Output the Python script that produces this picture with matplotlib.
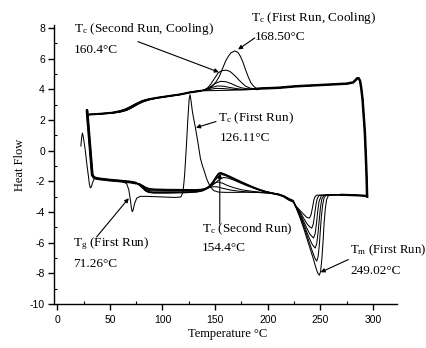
import matplotlib
matplotlib.use("Agg")
import matplotlib.pyplot as plt
from matplotlib.ticker import MultipleLocator

plt.rcParams['font.family'] = 'Liberation Serif'
plt.rcParams['mathtext.fontset'] = 'custom'
plt.rcParams['mathtext.rm'] = 'Liberation Serif'
plt.rcParams['mathtext.it'] = 'Liberation Serif:italic'
plt.rcParams['axes.unicode_minus'] = False

# ---------------- heating scans ----------------
# first heating run (glass transition, cold crystallisation spike, deepest melt)
run1_heat_T = [22.5, 23.3, 24.0, 24.8, 26.6, 28.2, 29.7, 30.6, 31.5, 32.5, 33.5, 35.4, 38, 45, 55, 62,
               66, 68, 69.5, 70.5, 71.26, 72.2, 73.5, 75.5, 78.8, 85, 100, 112, 117.5,
               119.5, 121, 122.6, 124.2, 125.3, 126.11, 127, 128.5, 130, 131, 132.5, 134.2, 136, 138,
               140, 142, 145, 148.5, 153, 160, 170, 180, 190, 200, 206, 212, 216, 220, 224,
               227, 230.7, 234, 237, 240, 243, 245.5, 247.5, 249.02, 250.2, 251.4, 252.5, 253.5,
               254.6, 255.8, 257.6, 262]
run1_heat_Q = [0.3, 0.9, 1.15, 0.9, 0.07, -0.9, -1.68, -2.2, -2.43, -2.35, -2.1, -1.8, -1.8, -1.88, -1.95, -2.02,
               -2.15, -2.55, -3.2, -3.75, -3.98, -3.85, -3.45, -3.1, -2.98, -2.98, -3.02, -3.05, -3.02,
               -2.7, -1.6, 0.2, 2.2, 3.35, 3.65, 3.3, 2.5, 1.95, 1.6, 1.0, 0.3, -0.5, -1.0,
               -1.4, -1.85, -2.3, -2.6, -2.7, -2.72, -2.72, -2.71, -2.72, -2.76, -2.8, -2.88, -3.0, -3.18, -3.3,
               -3.75, -4.4, -5.05, -5.7, -6.35, -7.0, -7.6, -8.0, -8.12, -7.85, -7.0, -5.9, -4.7,
               -3.8, -3.2, -2.92, -2.88]

# second-run heating scans: common start and common end plateau
heat_start_T = [28.3, 33.3, 34.6, 36.2, 40, 50, 60, 70, 75]
heat_start_Q = [2.65, -1.58, -1.72, -1.79, -1.84, -1.92, -1.98, -2.05, -2.12]
heat_end_T = [270, 280, 290, 294.2]
heat_end_Q = [-2.88, -2.9, -2.93, -2.95]

# glass step + cold crystallisation region (78-224 C)
heat_a_T = [78, 81, 84, 87, 92, 105, 120, 132, 138, 142, 145.5, 148.5, 151, 153, 154.4, 156, 159, 163,
            167, 172, 177, 183, 190, 197, 204, 210, 215, 220, 224]
heat_a_Q = [-2.22, -2.4, -2.6, -2.7, -2.74, -2.74, -2.72, -2.68, -2.6, -2.47, -2.27, -2.0, -1.72, -1.53,
            -1.46, -1.47, -1.55, -1.67, -1.8, -1.96, -2.12, -2.3, -2.5, -2.66, -2.78, -2.86, -2.98, -3.2, -3.32]
heat_b_T = [78, 81, 84, 87, 92, 105, 120, 132, 138, 143, 147, 151, 154, 156, 159, 163, 168, 174, 180,
            187, 195, 203, 210, 215, 220, 224]
heat_b_Q = [-2.2, -2.36, -2.52, -2.6, -2.63, -2.64, -2.63, -2.6, -2.54, -2.4, -2.15, -1.85, -1.62, -1.56,
            -1.6, -1.72, -1.88, -2.06, -2.24, -2.44, -2.62, -2.75, -2.85, -2.97, -3.18, -3.3]
heat_c_T = [78, 81, 84, 87, 92, 105, 120, 132, 140, 145, 150, 154, 158, 162, 167, 173, 180, 188, 196,
            204, 210, 215, 220, 224]
heat_c_Q = [-2.18, -2.32, -2.46, -2.55, -2.58, -2.6, -2.6, -2.58, -2.52, -2.38, -2.12, -1.88, -1.75, -1.78,
            -1.9, -2.08, -2.28, -2.48, -2.65, -2.76, -2.85, -2.96, -3.16, -3.28]
heat_d_T = [78, 81, 84, 87, 92, 105, 120, 132, 138, 143, 147, 150, 153, 157, 162, 168, 175, 185, 195,
            205, 210, 215, 220, 224]
heat_d_Q = [-2.16, -2.28, -2.42, -2.5, -2.53, -2.55, -2.56, -2.56, -2.52, -2.4, -2.22, -2.08, -2.05, -2.12,
            -2.28, -2.42, -2.55, -2.65, -2.72, -2.78, -2.84, -2.95, -3.14, -3.26]
heat_e_T = [78, 81, 84, 87, 92, 105, 120, 132, 140, 144, 148, 152, 157, 164, 172, 182, 195, 205, 210,
            215, 220, 224]
heat_e_Q = [-2.15, -2.26, -2.38, -2.46, -2.5, -2.52, -2.53, -2.54, -2.5, -2.42, -2.35, -2.36, -2.45, -2.56,
            -2.64, -2.7, -2.74, -2.78, -2.83, -2.94, -3.12, -3.24]

# melting endotherms
melt_a_T = [227, 230.7, 234, 237, 240, 243, 245, 246.5, 247.8, 249, 250, 251, 252.2, 253.5, 255.5, 262]
melt_a_Q = [-3.72, -4.3, -4.9, -5.5, -6.1, -6.7, -7.05, -7.2, -6.9, -6.1, -5.1, -4.2, -3.5, -3.05, -2.9, -2.88]
melt_b_T = [227, 230.7, 234, 237, 240, 242.5, 245, 246.5, 247.8, 249, 250, 251.3, 253.3, 262]
melt_b_Q = [-3.7, -4.2, -4.75, -5.3, -5.8, -6.15, -6.35, -6.05, -5.3, -4.4, -3.7, -3.15, -2.92, -2.88]
melt_c_T = [227, 230.7, 234, 237, 240, 243.4, 245, 246.3, 247.5, 248.7, 251, 262]
melt_c_Q = [-3.68, -4.1, -4.6, -5.05, -5.45, -5.7, -5.4, -4.7, -3.9, -3.3, -2.92, -2.88]
melt_d_T = [227, 230.7, 234, 237, 239.5, 241.8, 243.3, 244.6, 245.8, 247, 248.8, 262]
melt_d_Q = [-3.66, -4.0, -4.4, -4.75, -4.95, -5.05, -4.75, -4.1, -3.5, -3.1, -2.92, -2.88]
melt_e_T = [227, 230.7, 234, 237, 239.6, 241.2, 242.6, 243.8, 245, 246.6, 262]
melt_e_Q = [-3.64, -3.9, -4.15, -4.35, -4.4, -4.15, -3.65, -3.2, -2.98, -2.9, -2.88]

# ---------------- cooling scans ----------------
cool_left_T = [29.0, 40, 52, 60, 66, 71, 76, 81, 87, 95, 105, 117, 126, 133, 136]
cool_left_Q = [2.35, 2.4, 2.47, 2.58, 2.72, 2.9, 3.08, 3.24, 3.35, 3.45, 3.55, 3.67, 3.8, 3.87, 3.9]
cool_left_alt_Q = [2.35, 2.39, 2.44, 2.52, 2.63, 2.8, 3.0, 3.17, 3.31, 3.43, 3.54, 3.66, 3.8, 3.87, 3.9]
cool_right_T = [190, 192, 210, 227, 250, 275, 281, 283, 284.9, 286.3, 287.6, 288.8, 290, 291.1, 292.2,
                293, 293.7, 294.3]
cool_right_Q = [4.03, 4.05, 4.1, 4.2, 4.28, 4.37, 4.45, 4.58, 4.72, 4.72, 4.55, 4.05, 3.33, 2.25, 1.15,
                -0.2, -1.46, -3.0]

# crystallisation exotherms on cooling (136-190 C)
cool_1_T = [141, 145, 148, 151, 154, 157, 160, 162.5, 165, 168.5, 171.5, 174, 176.5, 179, 181.5, 184, 187]
cool_1_Q = [3.95, 4.08, 4.25, 4.5, 4.85, 5.35, 5.85, 6.15, 6.38, 6.5, 6.42, 6.15, 5.75, 5.25, 4.8, 4.42, 4.17]
cool_2_T = [140, 143, 146, 149.5, 153, 156.5, 160.4, 164, 167, 170, 173, 176, 179, 183, 187]
cool_2_Q = [3.98, 4.1, 4.35, 4.72, 5.08, 5.22, 5.25, 5.17, 5.0, 4.8, 4.58, 4.38, 4.2, 4.08, 4.04]
cool_3_T = [140, 145, 150, 155, 160, 165, 170, 175, 180, 185]
cool_3_Q = [3.97, 4.15, 4.38, 4.52, 4.5, 4.38, 4.22, 4.1, 4.04, 4.03]
cool_4_T = [142, 147, 152, 158, 164, 170, 176, 183]
cool_4_Q = [4.0, 4.12, 4.22, 4.2, 4.12, 4.05, 4.0, 4.0]
cool_5_T = [143, 150, 158, 166, 175, 183]
cool_5_Q = [3.96, 4.06, 4.05, 4.0, 3.97, 3.98]
cool_6_T = [150, 165, 180]
cool_6_Q = [3.92, 3.94, 3.98]

fig = plt.figure(figsize=(4.26, 3.48), dpi=100)
ax = fig.add_axes([0.1268, 0.1264, 0.8059, 0.802])

LW = 0.75
K = 'black'

# first heating run
ax.plot(run1_heat_T, run1_heat_Q, color=K, lw=LW)

# second-run heating scans
mids = [(heat_a_T, heat_a_Q, melt_a_T, melt_a_Q),
        (heat_b_T, heat_b_Q, melt_b_T, melt_b_Q),
        (heat_c_T, heat_c_Q, melt_c_T, melt_c_Q),
        (heat_d_T, heat_d_Q, melt_d_T, melt_d_Q),
        (heat_e_T, heat_e_Q, melt_e_T, melt_e_Q)]
for hT, hQ, mT, mQ in mids:
    T = heat_start_T + hT + mT + heat_end_T
    Q = heat_start_Q + hQ + mQ + heat_end_Q
    ax.plot(T, Q, color=K, lw=LW)
# overlapping traces on the shared stretches
ax.plot(heat_start_T + heat_a_T, heat_start_Q + heat_a_Q, color=K, lw=1.4)
ax.plot(heat_start_T, heat_start_Q, color=K, lw=2.0, solid_capstyle='butt')
ax.plot(heat_end_T, heat_end_Q, color=K, lw=1.6)

# cooling scans
peaks = [(cool_1_T, cool_1_Q, cool_left_Q), (cool_2_T, cool_2_Q, cool_left_alt_Q),
         (cool_3_T, cool_3_Q, cool_left_Q), (cool_4_T, cool_4_Q, cool_left_alt_Q),
         (cool_5_T, cool_5_Q, cool_left_Q), (cool_6_T, cool_6_Q, cool_left_Q)]
for pT, pQ, lQ in peaks:
    ax.plot(cool_left_T + pT + cool_right_T, lQ + pQ + cool_right_Q, color=K, lw=LW)
ax.plot(cool_left_T, cool_left_Q, color=K, lw=1.5)
ax.plot(cool_right_T, cool_right_Q, color=K, lw=1.8)

# axes styling
ax.set_xlim(-3, 323)
ax.set_ylim(-10, 8.2)
for s in ('top', 'right'):
    ax.spines[s].set_visible(False)
for s in ('left', 'bottom'):
    ax.spines[s].set_linewidth(1.0)
ax.xaxis.set_major_locator(MultipleLocator(50))
ax.xaxis.set_minor_locator(MultipleLocator(25))
ax.yaxis.set_major_locator(MultipleLocator(2))
ax.yaxis.set_minor_locator(MultipleLocator(1))
ax.tick_params(which='major', direction='out', length=4, width=1.0, labelsize=7.5, pad=2.5)
ax.tick_params(which='minor', direction='in', length=2.5, width=0.8)
ax.tick_params(axis='x', which='major', pad=4)
for t in ax.get_xticklabels() + ax.get_yticklabels():
    t.set_fontfamily('Liberation Sans')

ax.set_xlabel('Temperature °C', fontsize=9)
ax.xaxis.set_label_coords(0.507, -0.108)
ax.xaxis.label.set_va('center')
ax.set_ylabel('Heat Flow', fontsize=9)
ax.yaxis.set_label_coords(-0.099, 0.5)
ax.yaxis.label.set_va('center')

FS = 9.5
arrow = dict(arrowstyle='-|>', color=K, lw=0.8, mutation_scale=6, shrinkA=0, shrinkB=0)


def note(x, y, s, size=FS):
    ax.text(x, y, s, fontsize=size, ha='left', va='center')


# cooling peak labels
note(15.9, 7.96, r'T$_{\rm c}$ (Second Run, Cooling)')
note(15.9, 6.55, '160.4°C')
ax.annotate('', xy=(153.5, 5.12), xytext=(76.7, 7.11), arrowprops=arrow)

note(184.1, 8.68, r'T$_{\rm c}$ (First Run, Cooling)')
note(188.0, 7.44, '168.50°C')
ax.annotate('', xy=(171.8, 6.6), xytext=(187.6, 7.35), arrowprops=arrow)

# heating labels
note(152.9, 2.09, r'T$_{\rm c}$ (First Run)')
note(154.6, 0.85, '126.11°C')
ax.annotate('', xy=(131.8, 1.5), xytext=(150.8, 1.9), arrowprops=arrow)

note(15.0, -6.07, r'T$_{\rm g}$ (First Run)')
note(15.0, -7.37, '71.26°C')
ax.annotate('', xy=(68.0, -3.1), xytext=(37.4, -5.63), arrowprops=arrow)

note(137.6, -5.15, r'T$_{\rm c}$ (Second Run)')
note(137.0, -6.33, '154.4°C')
ax.annotate('', xy=(154.4, -1.5), xytext=(154.4, -4.78), arrowprops=arrow)

note(278.0, -6.52, r'T$_{\rm m}$ (First Run)', size=9.2)
note(278.0, -7.86, '249.02°C')
ax.annotate('', xy=(250.2, -7.93), xytext=(276.5, -7.1), arrowprops=arrow)

fig.savefig('out.png', dpi=100)
